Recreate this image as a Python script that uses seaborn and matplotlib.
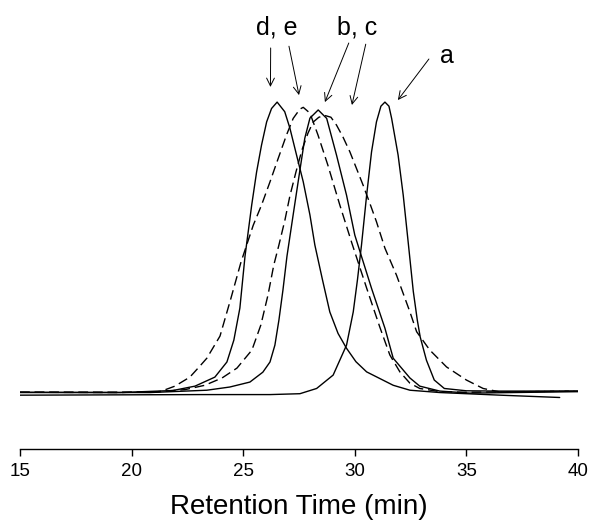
import numpy as np
import pandas as pd
import seaborn as sns
import matplotlib.pyplot as plt

sns.set_style('ticks')
plt.rcParams['font.family'] = ['Liberation Sans', 'DejaVu Sans']
plt.rcParams['text.color'] = 'k'
plt.rcParams['axes.edgecolor'] = 'k'
plt.rcParams['xtick.color'] = 'k'
plt.rcParams['axes.labelcolor'] = 'k'

# retention time (min) / normalised detector signal
time_a = [15.00, 23.06, 26.20, 27.54, 28.29, 29.03, 29.63, 29.93, 30.12, 30.30,
          30.53, 30.75, 30.97, 31.17, 31.35, 31.53, 31.65, 31.94, 32.17, 32.39,
          32.62, 32.80, 32.93, 33.21, 33.56, 34.01, 35.00, 36.50, 40.00]
sig_a = [-0.007, -0.005, -0.005, -0.002, 0.016, 0.062, 0.165, 0.279, 0.390, 0.509,
         0.680, 0.829, 0.932, 0.986, 1.000, 0.986, 0.944, 0.818, 0.680, 0.520,
         0.350, 0.251, 0.193, 0.113, 0.045, 0.016, 0.008, 0.007, 0.007]

time_b = [15.00, 20.82, 23.37, 24.40, 25.30, 25.88, 26.20, 26.42, 26.60, 26.78,
          26.96, 27.27, 27.54, 27.76, 27.99, 28.36, 28.74, 29.18, 29.63,
          30.00, 30.75, 31.35, 31.72, 32.47, 32.91, 33.81, 35.15, 40.00]
sig_b = [0.003, 0.002, 0.010, 0.021, 0.038, 0.072, 0.107, 0.165, 0.251, 0.354,
         0.470, 0.629, 0.766, 0.876, 0.945, 0.973, 0.944, 0.818, 0.680,
         0.543, 0.360, 0.223, 0.120, 0.052, 0.024, 0.007, 0.000, 0.005]

time_c = [15.00, 20.82, 22.39, 23.28, 24.05, 24.72, 25.39, 25.79, 26.11, 26.37,
          26.60, 26.87, 27.09, 27.36, 27.63, 27.90, 28.13, 28.39, 28.66, 28.93,
          29.18, 29.47, 29.78, 30.07, 30.37, 30.67, 30.97, 31.35, 31.87, 32.47,
          32.77, 33.36, 34.11, 35.00, 35.75, 36.50, 40.00]
sig_c = [0.003, 0.003, 0.012, 0.027, 0.052, 0.086, 0.148, 0.234, 0.337, 0.440,
         0.509, 0.595, 0.677, 0.759, 0.835, 0.893, 0.931, 0.948, 0.954, 0.948,
         0.921, 0.880, 0.829, 0.773, 0.715, 0.653, 0.589, 0.498, 0.405, 0.279,
         0.211, 0.148, 0.090, 0.045, 0.016, 0.004, 0.007]

time_d = [15.00, 19.48, 21.85, 22.84, 23.73, 24.27, 24.58, 24.85, 25.08,
          25.38, 25.60, 25.82, 26.05, 26.27, 26.52, 26.86, 27.09, 27.39, 27.69,
          27.99, 28.21, 28.55, 28.88, 29.25, 29.63, 30.05, 30.53, 31.72, 32.47,
          33.81, 36.50, 39.18]
sig_d = [0.002, 0.002, 0.009, 0.024, 0.055, 0.107, 0.182, 0.292, 0.470,
         0.646, 0.760, 0.852, 0.932, 0.978, 1.000, 0.967, 0.911, 0.818, 0.726,
         0.612, 0.509, 0.390, 0.279, 0.205, 0.154, 0.108, 0.073, 0.027, 0.010,
         0.002, -0.007, -0.015]

time_e = [15.00, 19.48, 21.27, 21.94, 22.61, 23.06, 23.37, 23.96, 24.45, 24.90,
          25.45, 25.82, 26.20, 26.57, 26.94, 27.24, 27.54, 27.69, 27.99,
          28.35, 28.79, 29.33, 29.87, 30.53, 31.12, 31.57, 32.02, 32.47, 32.91,
          33.81, 35.00, 40.00]
sig_e = [0.003, 0.002, 0.005, 0.024, 0.055, 0.093, 0.120, 0.196, 0.326, 0.450,
         0.577, 0.646, 0.726, 0.807, 0.887, 0.944, 0.976, 0.982, 0.962,
         0.887, 0.784, 0.646, 0.515, 0.361, 0.227, 0.131, 0.073, 0.034, 0.016,
         0.005, 0.003, 0.007]

curves = [('a', time_a, sig_a, 'solid'),
          ('b', time_b, sig_b, 'solid'),
          ('c', time_c, sig_c, 'dashed'),
          ('d', time_d, sig_d, 'solid'),
          ('e', time_e, sig_e, 'dashed')]

fig = plt.figure(figsize=(5.89, 5.27), dpi=100)
ax = fig.add_axes([0.034, 0.148, 0.9473, 0.814])

for name, t, s, kind in curves:
    df = pd.DataFrame({'time': t, 'signal': s})
    if kind == 'dashed':
        sns.lineplot(x='time', y='signal', data=df, color='k', lw=1.0,
                     dashes=(7, 3.5), sort=False, ax=ax)
    else:
        sns.lineplot(x='time', y='signal', data=df, color='k', lw=1.0,
                     sort=False, ax=ax)

ax.set_xlim(15, 40)
ax.set_ylim(-0.192, 1.282)
ax.set_xticks([15, 20, 25, 30, 35, 40])
ax.set_yticks([])
ax.set_ylabel('')
ax.set_xlabel('Retention Time (min)', fontsize=20, labelpad=10)
ax.tick_params(axis='x', labelsize=13.5, length=5, width=1, direction='out', pad=5)
for side in ['top', 'right', 'left']:
    ax.spines[side].set_visible(False)
ax.spines['bottom'].set_linewidth(1.0)

# peak labels and arrows
arrow = dict(arrowstyle='->', color='k', lw=0.7, mutation_scale=14, shrinkA=0, shrinkB=0)
ax.annotate('', xy=(26.22, 1.052), xytext=(26.23, 1.186), arrowprops=arrow)
ax.annotate('', xy=(27.50, 1.024), xytext=(27.05, 1.192), arrowprops=arrow)
ax.annotate('', xy=(28.66, 1.000), xytext=(29.73, 1.203), arrowprops=arrow)
ax.annotate('', xy=(29.87, 0.990), xytext=(30.49, 1.199), arrowprops=arrow)
ax.annotate('', xy=(31.93, 1.007), xytext=(33.32, 1.148), arrowprops=arrow)
ax.text(26.51, 1.258, 'd, e', fontsize=18, ha='center', va='center')
ax.text(30.09, 1.258, 'b, c', fontsize=18, ha='center', va='center')
ax.text(34.13, 1.160, 'a', fontsize=18, ha='center', va='center')

fig.savefig('out.png', dpi=100)
